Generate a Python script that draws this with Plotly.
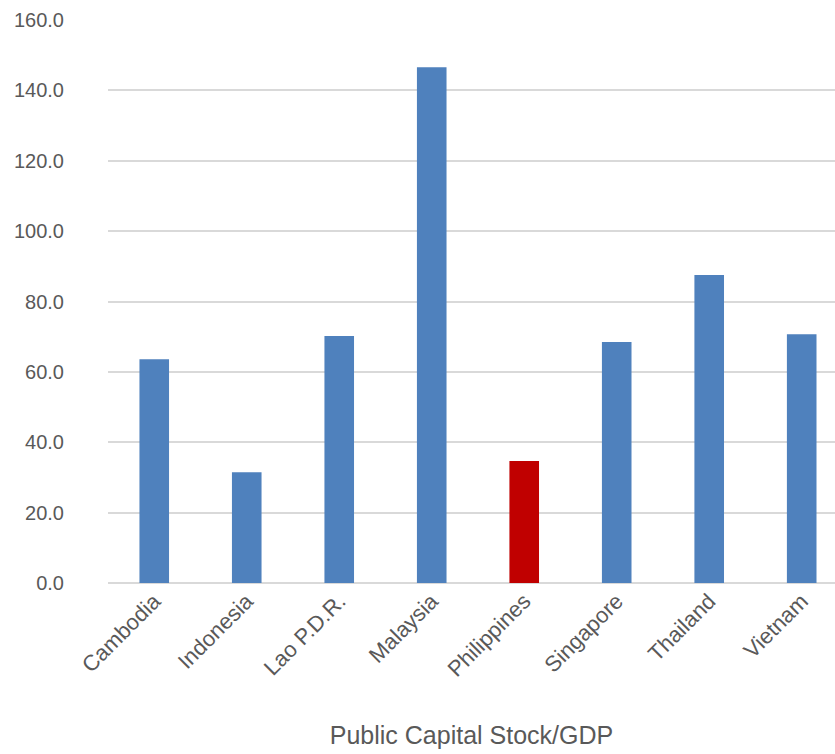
import plotly.graph_objects as go

countries = ["Cambodia", "Indonesia", "Lao P.D.R.", "Malaysia", "Philippines",
             "Singapore", "Thailand", "Vietnam"]
values = [63.6, 31.5, 70.2, 146.6, 34.7, 68.5, 87.5, 70.7]
highlight = "Philippines"
y_ticks = [0, 20, 40, 60, 80, 100, 120, 140, 160]

colors = ["#C00000" if c == highlight else "#4F81BD" for c in countries]

fig = go.Figure(go.Bar(
    x=list(range(len(countries))), y=values,
    marker=dict(color=colors, line=dict(width=0)),
    width=0.32,
))

font_family = "Liberation Sans Narrow, Arial Narrow, Liberation Sans, Arial, sans-serif"

fig.update_layout(
    width=835, height=754,
    margin=dict(l=108, r=0, t=20, b=171),
    paper_bgcolor="white", plot_bgcolor="white",
    showlegend=False,
    font=dict(family=font_family, color="#595959", size=19),
    xaxis=dict(
        tickmode="array",
        tickvals=list(range(len(countries))),
        ticktext=countries,
        tickangle=-45,
        range=[-0.5, 7.36],
        showgrid=False, zeroline=False, showline=False,
        ticks="",
        tickfont=dict(size=22, color="#595959"),
        title=dict(text="Public Capital Stock/GDP", standoff=45,
                   font=dict(size=25, color="#595959")),
    ),
    yaxis=dict(
        range=[0, 160],
        tickvals=y_ticks,
        tickformat=".1f",
        showgrid=True, gridcolor="#D9D9D9", gridwidth=2,
        zeroline=True, zerolinecolor="#D9D9D9", zerolinewidth=2,
        showline=False, ticks="",
        ticklabelstandoff=43,
        tickfont=dict(size=20, color="#595959"),
    ),
)

fig.write_html("out.html")
